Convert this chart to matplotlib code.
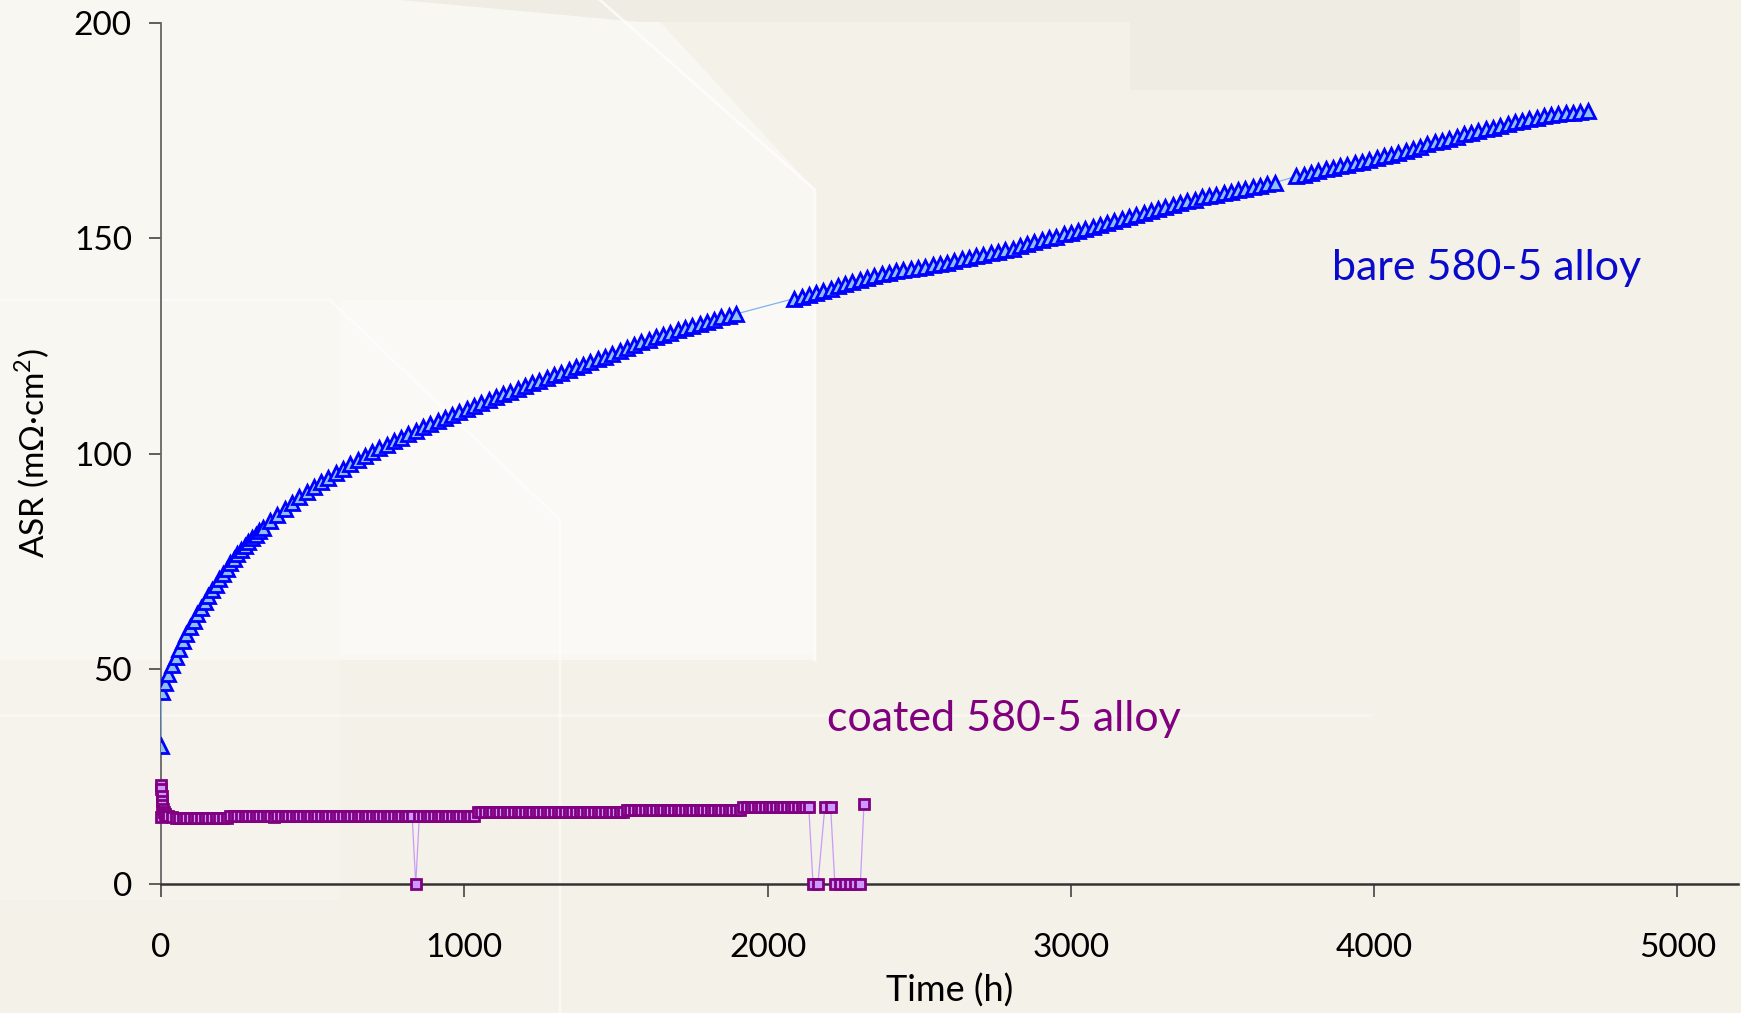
import matplotlib
matplotlib.use('Agg')
import matplotlib.pyplot as plt
from matplotlib.patches import Polygon

plt.rcParams['font.family'] = ['Lato', 'DejaVu Sans']
plt.rcParams['mathtext.fontset'] = 'custom'
plt.rcParams['mathtext.rm'] = 'Lato'

# bare alloy: time (h) and ASR (mOhm cm2)
bare_hours = [
    0, 2, 12, 24, 36, 48, 60, 72, 84, 96, 108, 120,
    132, 144, 156, 168, 180, 192, 204, 216, 228, 240, 252, 264,
    276, 288, 300, 312, 324, 336,
    360, 384, 408, 432, 456, 480, 504, 528, 552, 576, 600, 624,
    648, 672, 696, 720, 744, 768, 792, 816, 840, 864, 888, 912,
    936, 960, 984, 1008, 1032, 1056, 1080, 1104, 1128, 1152, 1176, 1200,
    1224, 1248, 1272, 1296, 1320, 1344, 1368, 1392, 1416, 1440, 1464, 1488,
    1512, 1536, 1560, 1584, 1608, 1632, 1656, 1680, 1704, 1728, 1752, 1776,
    1800, 1824, 1848, 1872, 1896,
    2088, 2112, 2136, 2160, 2184, 2208, 2232, 2256, 2280, 2304, 2328, 2352,
    2376, 2400, 2424, 2448, 2472, 2496, 2520, 2544, 2568, 2592, 2616, 2640,
    2664, 2688, 2712, 2736, 2760, 2784, 2808, 2832, 2856, 2880, 2904, 2928,
    2952, 2976, 3000, 3024, 3048, 3072, 3096, 3120, 3144, 3168, 3192, 3216,
    3240, 3264, 3288, 3312, 3336, 3360, 3384, 3408, 3432, 3456, 3480, 3504,
    3528, 3552, 3576, 3600, 3624, 3648, 3672,
    3744, 3768, 3792, 3816, 3840, 3864, 3888, 3912, 3936, 3960, 3984, 4008,
    4032, 4056, 4080, 4104, 4128, 4152, 4176, 4200, 4224, 4248, 4272, 4296,
    4320, 4344, 4368, 4392, 4416, 4440, 4464, 4488, 4512, 4536, 4560, 4584,
    4608, 4632, 4656, 4680, 4704,
]
bare_asr = [
    32.0, 44.5, 46.7, 48.8, 50.8, 52.8, 54.6, 56.4, 58.1, 59.7, 61.2, 62.7,
    64.1, 65.5, 66.9, 68.2, 69.5, 70.8, 72.0, 73.2, 74.5, 75.6, 76.6, 77.6,
    78.5, 79.4, 80.3, 81.1, 82.0, 82.8,
    84.3, 85.8, 87.2, 88.5, 89.8, 91.0, 92.2, 93.3, 94.4, 95.5, 96.5, 97.5,
    98.5, 99.4, 100.3, 101.2, 102.0, 102.9, 103.7, 104.5, 105.3, 106.1, 106.9, 107.6,
    108.3, 109.0, 109.7, 110.4, 111.1, 111.8, 112.5, 113.2, 113.8, 114.4, 115.0, 115.7,
    116.3, 116.9, 117.6, 118.2, 118.8, 119.4, 120.0, 120.6, 121.2, 121.9, 122.5, 123.2,
    123.8, 124.5, 125.1, 125.8, 126.4, 127.1, 127.6, 128.1, 128.6, 129.1, 129.6, 130.1,
    130.6, 131.1, 131.6, 132.0, 132.4,
    136.0, 136.4, 136.9, 137.3, 137.8, 138.3, 138.8, 139.3, 139.8, 140.3, 140.8, 141.2,
    141.6, 142.0, 142.3, 142.6, 142.9, 143.1, 143.4, 143.7, 144.0, 144.3, 144.7, 145.1,
    145.5, 145.9, 146.2, 146.6, 146.9, 147.2, 147.6, 148.1, 148.6, 149.1, 149.6, 150.0,
    150.4, 150.9, 151.3, 151.7, 152.2, 152.6, 153.1, 153.5, 154.0, 154.4, 154.9, 155.3,
    155.8, 156.3, 156.7, 157.2, 157.7, 158.1, 158.6, 159.0, 159.5, 159.8, 160.1, 160.5,
    160.8, 161.2, 161.5, 161.8, 162.2, 162.5, 162.9,
    164.4, 164.8, 165.2, 165.6, 166.0, 166.4, 166.8, 167.1, 167.5, 167.8, 168.2, 168.6,
    169.0, 169.4, 169.8, 170.3, 170.8, 171.3, 171.8, 172.3, 172.7, 173.1, 173.6, 174.1,
    174.5, 174.9, 175.3, 175.7, 176.1, 176.5, 176.9, 177.3, 177.7, 178.0, 178.3, 178.6,
    178.8, 179.0, 179.2, 179.4, 179.6,
]

# coated alloy
coated_hours = [
    0, 0.5, 1, 2, 3, 4, 6, 9, 12, 18, 24,
    36, 48, 60, 72, 84, 96, 108, 120, 132, 144, 156, 168,
    180, 192, 204, 216,
    228, 240, 252, 264, 276, 288, 300, 312, 324, 336, 348, 360,
    372, 384, 396, 408, 420, 432, 444, 456, 468, 480, 492, 504,
    516, 528, 540, 552, 564, 576, 588, 600, 612, 624, 636, 648,
    660, 672, 684, 696, 708, 720, 732, 744, 756, 768, 780, 792,
    804, 816, 828, 840, 852, 864, 876, 888, 900, 912, 924, 936,
    948, 960, 972, 984, 996, 1008, 1020, 1032,
    1044, 1056, 1068, 1080, 1092, 1104, 1116, 1128, 1140, 1152, 1164, 1176,
    1188, 1200, 1212, 1224, 1236, 1248, 1260, 1272, 1284, 1296, 1308, 1320,
    1332, 1344, 1356, 1368, 1380, 1392, 1404, 1416, 1428, 1440, 1452, 1464,
    1476, 1488, 1500, 1512, 1524,
    1536, 1548, 1560, 1572, 1584, 1596, 1608, 1620, 1632, 1644, 1656, 1668,
    1680, 1692, 1704, 1716, 1728, 1740, 1752, 1764, 1776, 1788, 1800, 1812,
    1824, 1836, 1848, 1860, 1872, 1884, 1896, 1908,
    1920, 1932, 1944, 1956, 1968, 1980, 1992, 2004, 2016, 2028, 2040, 2052,
    2064, 2076, 2088, 2100, 2112, 2124, 2136,
    2150, 2166, 2189, 2208, 2222, 2239, 2256, 2273, 2290, 2306, 2318,
]
coated_asr = [
    15.6, 23.0, 22.0, 20.5, 19.3, 18.3, 17.4, 16.7, 16.3, 15.9, 15.7,
    15.5, 15.4, 15.4, 15.4, 15.4, 15.4, 15.4, 15.4, 15.4, 15.4, 15.4, 15.4,
    15.4, 15.4, 15.4, 15.4,
    15.9, 15.9, 15.9, 15.9, 15.9, 15.9, 15.9, 15.9, 15.9, 15.9, 15.9, 15.9,
    15.6, 15.9, 15.9, 15.9, 15.9, 15.9, 15.9, 15.9, 15.9, 15.9, 15.9, 15.9,
    15.9, 15.9, 15.9, 15.9, 15.9, 15.9, 15.9, 15.9, 15.9, 15.9, 15.9, 15.9,
    15.9, 15.9, 15.9, 15.9, 15.9, 15.9, 15.9, 15.9, 15.9, 15.9, 15.9, 15.9,
    15.9, 15.9, 15.9, 0.0, 15.9, 15.9, 15.9, 15.9, 15.9, 15.9, 15.9, 15.9,
    15.9, 15.9, 15.9, 15.9, 15.9, 15.9, 15.9, 15.9,
    16.7, 16.7, 16.7, 16.7, 16.7, 16.7, 16.7, 16.7, 16.7, 16.7, 16.7, 16.7,
    16.7, 16.7, 16.7, 16.7, 16.7, 16.7, 16.7, 16.7, 16.7, 16.7, 16.7, 16.7,
    16.7, 16.7, 16.7, 16.7, 16.7, 16.7, 16.7, 16.7, 16.7, 16.7, 16.7, 16.7,
    16.7, 16.7, 16.7, 16.7, 16.7,
    17.3, 17.3, 17.3, 17.3, 17.3, 17.3, 17.3, 17.3, 17.3, 17.3, 17.3, 17.3,
    17.3, 17.3, 17.3, 17.3, 17.3, 17.3, 17.3, 17.3, 17.3, 17.3, 17.3, 17.3,
    17.3, 17.3, 17.3, 17.3, 17.3, 17.3, 17.3, 17.3,
    17.9, 17.9, 17.9, 17.9, 17.9, 17.9, 17.9, 17.9, 17.9, 17.9, 17.9, 17.9,
    17.9, 17.9, 17.9, 17.9, 17.9, 17.9, 17.9,
    0.0, 0.0, 17.9, 17.9, 0.0, 0.0, 0.0, 0.0, 0.0, 0.0, 18.5,
]

x_ticks = [0, 1000, 2000, 3000, 4000, 5000]
y_ticks = [0, 50, 100, 150, 200]

W, H = 1741, 1013
fig = plt.figure(figsize=(W / 100, H / 100), dpi=100)
fig.patch.set_facecolor('#F4F1E8')

# slide background shapes, in pixel coords
bg = fig.add_axes([0, 0, 1, 1], zorder=-1)
bg.set_xlim(0, W)
bg.set_ylim(H, 0)
bg.axis('off')
shapes = [
    ([(0, 0), (640, 0), (815, 190), (815, 660), (0, 660)], '#F8F7F2'),
    ([(340, 300), (815, 300), (815, 655), (340, 655)], '#FAF9F6'),
    ([(400, 0), (1520, 0), (1520, 90), (1130, 90), (1130, 22), (640, 22)], '#EEECE3'),
    ([(0, 660), (340, 660), (340, 900), (0, 900)], '#F5F3EC'),
]
for pts, col in shapes:
    bg.add_patch(Polygon(pts, closed=True, facecolor=col, edgecolor='none'))
bg.plot([600, 815, 815], [0, 190, 660], color='#FFFFFF', lw=2, alpha=0.7)
bg.plot([0, 330, 560, 560], [300, 300, 520, 1013], color='#FFFFFF', lw=2, alpha=0.5)
bg.plot([0, 1370], [715, 715], color='#FFFFFF', lw=2, alpha=0.4)

ax = fig.add_axes([161 / W, 1 - 884 / H, (1738 - 161) / W, (884 - 23) / H])
ax.set_facecolor('none')

ax.plot(bare_hours, bare_asr, color='#7DB4EE', lw=0.9, marker='^', ms=9.5,
        mec='#0000FF', mfc='#8FC0F5', mew=2.0, zorder=3)
ax.plot(coated_hours, coated_asr, color='#C89BF8', lw=0.9, marker='s', ms=6.5,
        mec='#800080', mfc='#CC99FF', mew=2.0, zorder=3, clip_on=False)

ax.set_xlim(0, 5200)
ax.set_ylim(0, 200)
ax.set_xticks(x_ticks)
ax.set_yticks(y_ticks)
ax.tick_params(axis='both', labelsize=24, direction='out', length=9, width=1.2,
               color='#444444')
ax.tick_params(axis='x', pad=26)
ax.tick_params(axis='y', pad=12)

for side in ['top', 'right']:
    ax.spines[side].set_visible(False)
ax.spines['left'].set_color('#666666')
ax.spines['left'].set_linewidth(1.3)
ax.spines['bottom'].set_color('#333333')
ax.spines['bottom'].set_linewidth(1.8)

ax.set_xlabel('Time (h)', fontsize=26, labelpad=8)
ax.set_ylabel('ASR (mΩ·cm$^{2}$)', fontsize=24, labelpad=16)

ax.text(3860, 143.0, 'bare 580-5 alloy', color='#0A0ACC', fontsize=31,
        ha='left', va='center')
ax.text(2195, 38.4, 'coated 580-5 alloy', color='#800080', fontsize=31,
        ha='left', va='center')

fig.savefig('out.png', dpi=100, facecolor=fig.get_facecolor())
